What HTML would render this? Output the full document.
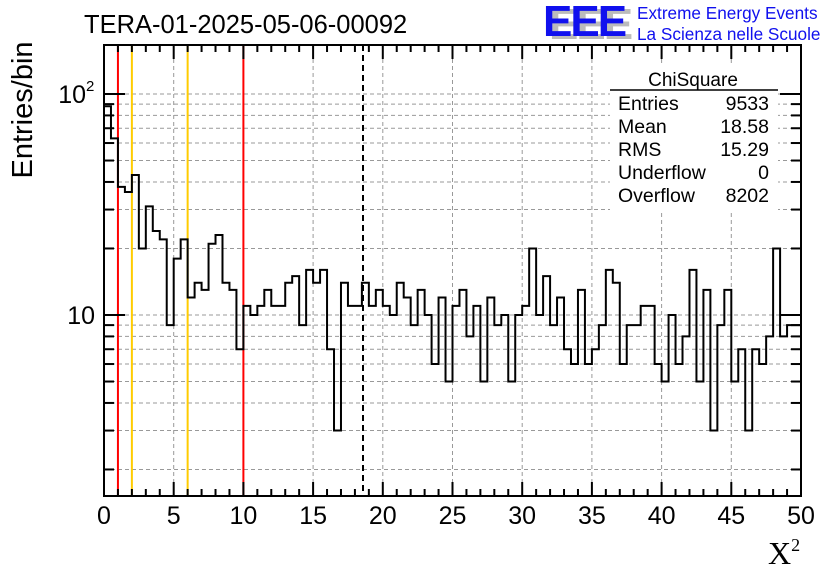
<!DOCTYPE html>
<html><head><meta charset="utf-8"><style>
html,body{margin:0;padding:0;background:#fff;}
svg{display:block;font-family:"Liberation Sans",sans-serif;}
</style></head><body>
<svg id="chart" width="836" height="572" viewBox="0 0 836 572">
<rect width="836" height="572" fill="#fff"/>
<g id="grid"></g>
<g id="vlines"></g>
<path id="hist" fill="none" stroke="#000" stroke-width="2"/>
<g id="axes"></g>
<rect x="610" y="64" width="168" height="146" fill="#fff"/>
<text x="693" y="86" font-size="19" text-anchor="middle">ChiSquare</text>
<line x1="610" y1="90" x2="778" y2="90" stroke="#000" stroke-width="1.5"/>
<g font-size="19.5">
<text x="618" y="110">Entries</text><text x="769" y="110" text-anchor="end">9533</text>
<text x="618" y="133">Mean</text><text x="769" y="133" text-anchor="end">18.58</text>
<text x="618" y="156">RMS</text><text x="769" y="156" text-anchor="end">15.29</text>
<text x="618" y="179">Underflow</text><text x="769" y="179" text-anchor="end">0</text>
<text x="618" y="202">Overflow</text><text x="769" y="202" text-anchor="end">8202</text>
</g>
<text x="84" y="33" font-size="25.5">TERA-01-2025-05-06-00092</text>
<g>
<text x="549" y="39" font-size="44" font-weight="bold" fill="#bbb" letter-spacing="-2">EEE</text>
<text x="543" y="36" font-size="44" font-weight="bold" fill="#1010ee" letter-spacing="-2">EEE</text>
<text x="637" y="19" font-size="17.2" fill="#1010ee">Extreme Energy Events</text>
<text x="637" y="40" font-size="17.2" fill="#1010ee">La Scienza nelle Scuole</text>
</g>
<text transform="translate(32,110) rotate(-90)" font-size="29" text-anchor="middle">Entries/bin</text>
<text x="768" y="564" font-size="32" font-family="Liberation Serif,serif">X<tspan font-size="18" dy="-13">2</tspan></text>
</svg>
<script>
const counts=[88,63,38,36,43,20,31,24,22,9,18,22,12,14,13,21,23,14,13,7,
11,10,11,13,11,11,14,15,9,16,14,16,7,3,14,11,11,14,11,13,
11,10,14,12,9,13,10,6,12,5,11,13,8,11,5,12,9,10,5,10,
11,20,10,15,9,12,7,6,13,6,7,9,16,14,6,9,9,11,11,6,
5,10,6,8,16,5,13,3,9,13,5,7,3,7,6,8,20,8,9,9];
const xMin=0, xMax=50, binWidth=0.5;
const xTicks=[0,5,10,15,20,25,30,35,40,45,50];
const markerRed=[1,10], markerOrange=[2,6], meanValue=18.58;
const L=104,R=801,T=45,B=496;
const yMinLog=Math.log10(10)-(B-315)/221, yMaxLog=1+(315-T)/221;
const NS='http://www.w3.org/2000/svg';
function sx(v){return L+(v-xMin)/(xMax-xMin)*(R-L);}
function sy(v){return B-(Math.log10(v)-yMinLog)/(yMaxLog-yMinLog)*(B-T);}
function mk(tag,attrs,parent){const e=document.createElementNS(NS,tag);for(const k in attrs)e.setAttribute(k,attrs[k]);parent.appendChild(e);return e;}
const grid=document.getElementById('grid'),axes=document.getElementById('axes'),vl=document.getElementById('vlines');
const gstyle={stroke:'#999','stroke-width':1,'stroke-dasharray':'4,3'};
xTicks.slice(1,-1).forEach(v=>{const l=mk('line',Object.assign({x1:sx(v),x2:sx(v),y1:T,y2:B},gstyle),grid);

});
const yVals=[];for(let d=1;d<=100;d*=10)for(let m=1;m<=9;m++){const v=m*d;if(sy(v)>T&&sy(v)<B)yVals.push(v);}
yVals.forEach(v=>{const l=mk('line',Object.assign({x1:L,x2:R,y1:sy(v),y2:sy(v)},gstyle),grid);

});
markerRed.forEach(v=>{const l=mk('line',{x1:sx(v),x2:sx(v),y1:T,y2:B,stroke:'#f00','stroke-width':2},vl);

});
markerOrange.forEach(v=>{const l=mk('line',{x1:sx(v),x2:sx(v),y1:T,y2:B,stroke:'#fc0','stroke-width':2},vl);

});
const ml=mk('line',{x1:sx(meanValue),x2:sx(meanValue),y1:T,y2:B,stroke:'#000','stroke-width':2,'stroke-dasharray':'6,4'},vl);


let d='M'+sx(xMin)+','+B;
counts.forEach((c,i)=>{const y=sy(c);d+=' L'+sx(xMin+i*binWidth)+','+y+' L'+sx(xMin+(i+1)*binWidth)+','+y;});
document.getElementById('hist').setAttribute('d',d);
const fr=mk('rect',{x:L,y:T,width:R-L,height:B-T,fill:'none',stroke:'#000','stroke-width':2},axes);


for(let v=xMin;v<=xMax;v+=1){const maj=v%5===0;const len=maj?14:7;
mk('line',{x1:sx(v),x2:sx(v),y1:B,y2:B-len,stroke:'#000','stroke-width':2},axes);
mk('line',{x1:sx(v),x2:sx(v),y1:T,y2:T+len,stroke:'#000','stroke-width':2},axes);}
xTicks.forEach(v=>{const t=mk('text',{x:sx(v),y:524,'font-size':25,'text-anchor':'middle'},axes);t.textContent=v;

});
yVals.forEach(v=>{const maj=(v===10||v===100);const len=maj?21:10;
mk('line',{x1:L,x2:L+len,y1:sy(v),y2:sy(v),stroke:'#000','stroke-width':2},axes);
mk('line',{x1:R,x2:R-len,y1:sy(v),y2:sy(v),stroke:'#000','stroke-width':2},axes);});
const t10=mk('text',{x:95,y:sy(10)+9,'font-size':25,'text-anchor':'end'},axes);t10.textContent='10';


const t100=mk('text',{x:86,y:sy(100)+9,'font-size':25,'text-anchor':'end'},axes);t100.textContent='10';


const sup=mk('text',{x:86,y:sy(100)-3,'font-size':15},axes);sup.textContent='2';
</script>
</body></html>
